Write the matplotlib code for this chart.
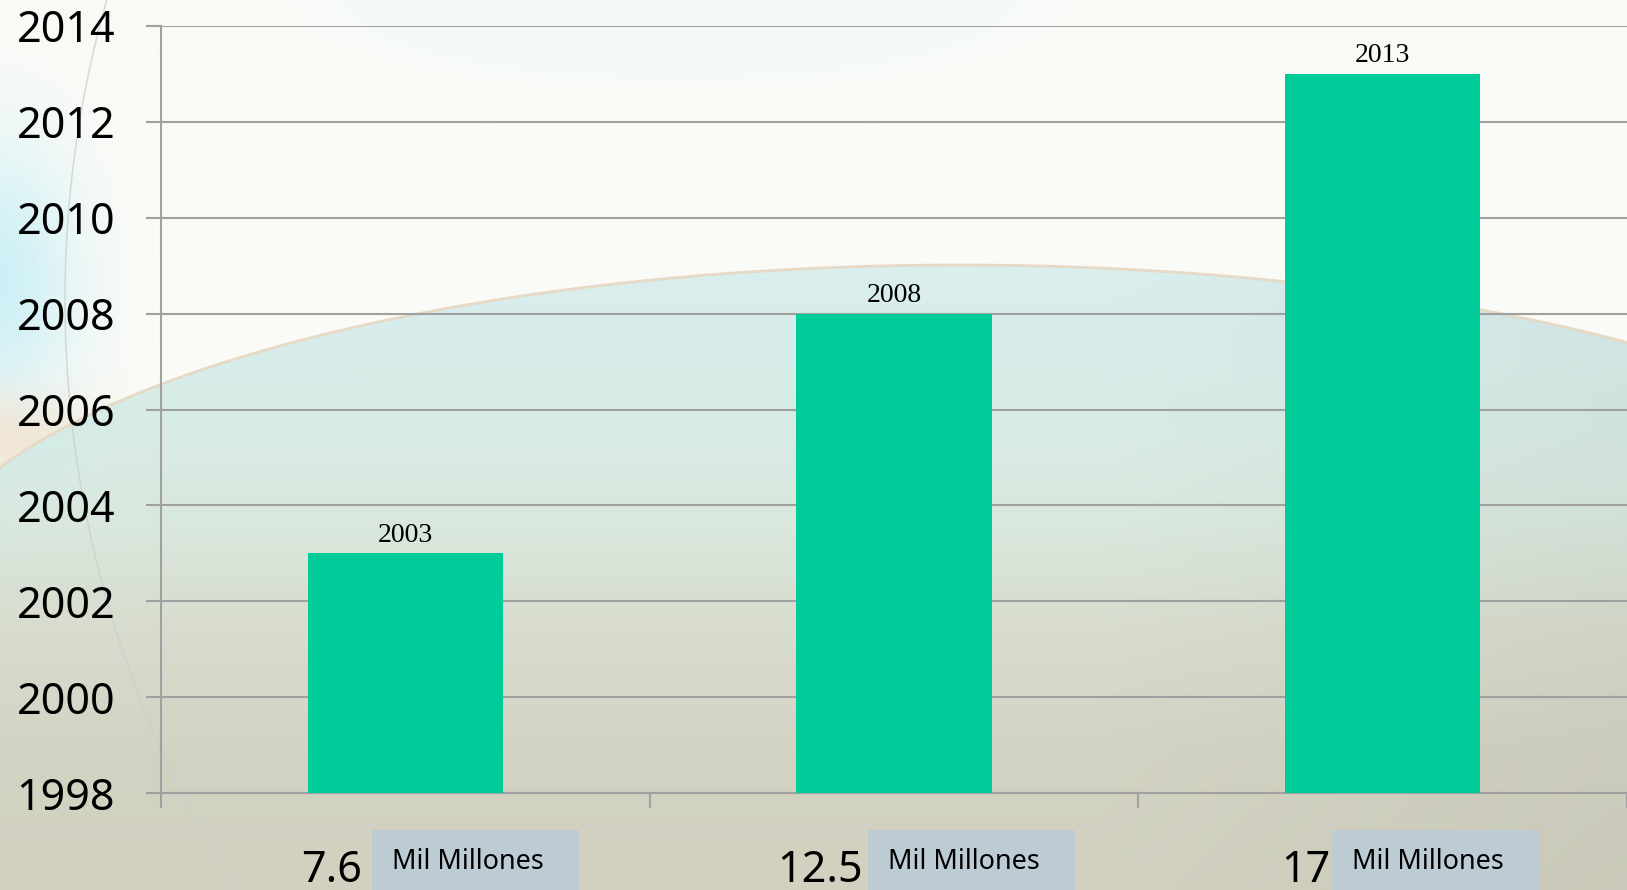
import matplotlib.pyplot as plt
import matplotlib.transforms as mtransforms
from matplotlib.patches import Rectangle
import numpy as np

# data
years = [2003, 2008, 2013]
amounts = ["7.6", "12.5", "17"]
unit = "Mil Millones"
yticks = list(range(1998, 2015, 2))

# hand placed offsets of the bottom labels (slide text boxes), in category units
num_offsets = [-0.089, -0.063, -0.106]
box_offsets = [-0.068, -0.053, -0.104]

W, H = 1627, 890
fig = plt.figure(figsize=(W / 100, H / 100), dpi=100)

# ---- slide background ----
yy, xx = np.mgrid[0:H, 0:W].astype(float)
cx, cy, a, b = 960, 605, 1050, 340
arc = cy - b * np.sqrt(np.clip(1 - ((xx - cx) / a) ** 2, 0, 1))
# above the arc: near white
upper = np.array([251, 251, 247]) * np.ones((H, W, 1))
# below the arc: light blue-green fading into beige
ys = [250, 330, 420, 520, 620, 750, 890]
cols = np.array([[218, 239, 238], [216, 237, 235], [216, 236, 230], [218, 232, 222],
                 [216, 221, 207], [211, 211, 195], [210, 209, 192]])
lower = np.stack([np.interp(yy, ys, cols[:, c]) for c in range(3)], axis=-1)
# right side a little greener/darker
shade = np.clip((xx - 1100) / 600, 0, 1)[..., None] * 0.04
lower = lower * (1 - shade)
img = np.where((yy > arc)[..., None], lower, upper)
# cyan haze at the top and left, peach hint on the left
haze = np.exp(-((xx - 680) / 380) ** 2 - (yy / 90) ** 2)[..., None]
img = img * (1 - 0.35 * haze) + np.array([226, 246, 244]) * 0.35 * haze
left = (np.exp(-(xx / 80) ** 2) * np.exp(-((yy - 280) / 140) ** 2))[..., None]
img = img * (1 - 0.75 * left) + np.array([192, 236, 246]) * 0.75 * left
peach = (np.exp(-(xx / 110) ** 2) * np.exp(-((yy - 440) / 45) ** 2) * (yy < arc))[..., None]
img = img * (1 - 0.7 * peach) + np.array([240, 222, 198]) * 0.7 * peach

bg = fig.add_axes([0, 0, 1, 1])
bg.imshow(img.astype(np.uint8), extent=(0, W, H, 0), aspect="auto")
t = np.linspace(0, W, 400)
bg.plot(t, cy - b * np.sqrt(1 - ((t - cx) / a) ** 2), color="#E6D9C6", lw=2)
th = np.linspace(np.pi * 0.6, np.pi * 1.4, 400)
bg.plot(1165 + 1100 * np.cos(th), 300 + 1100 * np.sin(th), color="#C9CFCF", lw=1.2, alpha=0.7)
bg.set_xlim(0, W)
bg.set_ylim(H, 0)
bg.axis("off")

# ---- chart ----
ax = fig.add_axes([161 / W, 97 / H, 1 - 161 / W, 767 / H])
ax.set_facecolor("none")
x = np.arange(len(years))
ax.bar(x, np.array(years) - 1998, bottom=1998, width=0.4, color="#00CC99", zorder=3)
for xi, yr in zip(x, years):
    ax.annotate(str(yr), (xi, yr), xytext=(0, 8.5), textcoords="offset points",
                ha="center", va="baseline", family="Liberation Serif", fontsize=20)

ax.set_xlim(-0.5, 2.5)
ax.set_ylim(1998, 2014)
ax.set_yticks(yticks)
ax.set_yticklabels([str(v) for v in yticks], family="Noto Sans", fontsize=31)
ax.set_xticks([-0.5, 0.5, 1.5, 2.5])
ax.set_xticklabels([])
ax.grid(axis="y", color="#A0A0A0", lw=1.5)
ax.set_axisbelow(True)
ax.tick_params(axis="both", color="#A0A0A0", width=1.5, length=11, direction="out")
ax.tick_params(axis="y", pad=22)
for s in ["top", "right"]:
    ax.spines[s].set_visible(False)
for s in ["left", "bottom"]:
    ax.spines[s].set_color("#A0A0A0")
    ax.spines[s].set_linewidth(1.5)

# bottom labels: amount + boxed unit
tr = mtransforms.blended_transform_factory(ax.transData, ax.transAxes)
for xi, amt, no, bo in zip(x, amounts, num_offsets, box_offsets):
    ax.text(xi + no, -0.116, amt, transform=tr, ha="right", va="baseline",
            family="Noto Sans", fontsize=31, clip_on=False)
    ax.add_patch(Rectangle((xi + bo, -0.25), 0.4236, 0.2018, transform=tr,
                           facecolor="#BDCCD4", edgecolor="none", clip_on=False, zorder=2))
    ax.text(xi + bo + 0.041, -0.099, unit, transform=tr, ha="left", va="baseline",
            family="Noto Sans", fontsize=19.4, clip_on=False, zorder=4)

fig.savefig("out.png", dpi=100)
